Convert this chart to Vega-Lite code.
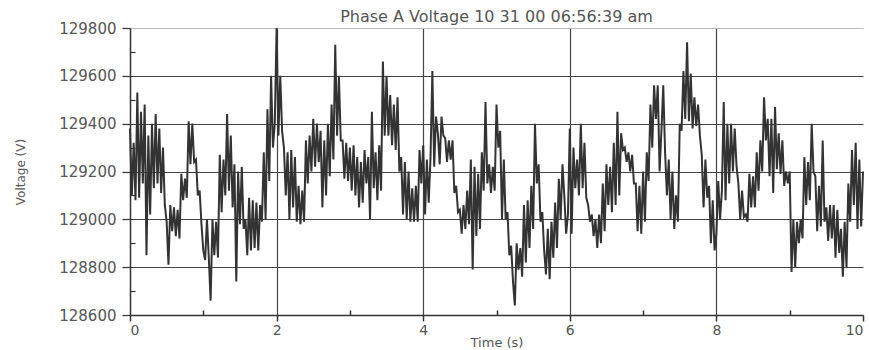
{
  "$schema": "https://vega.github.io/schema/vega-lite/v6.json",
  "width": 733,
  "height": 287,
  "autosize": "none",
  "padding": {"left": 130, "top": 28, "right": 6, "bottom": 35},
  "background": "white",
  "title": {"text": "Phase A Voltage 10 31 00 06:56:39 am", "font": "DejaVu Sans", "fontSize": 16, "fontWeight": "normal", "color": "#555", "offset": -4},
  "config": {"view": {"stroke": null}},
  "data": {"values": [
    {"t":0.000,"v":129380},{"t":0.025,"v":129100},{"t":0.050,"v":129320},{"t":0.075,"v":129080},
    {"t":0.100,"v":129530},{"t":0.125,"v":129090},{"t":0.150,"v":129450},{"t":0.175,"v":129150},
    {"t":0.200,"v":129480},{"t":0.225,"v":128850},{"t":0.250,"v":129350},{"t":0.275,"v":129020},
    {"t":0.300,"v":129400},{"t":0.325,"v":129130},{"t":0.350,"v":129440},{"t":0.375,"v":129150},
    {"t":0.400,"v":129380},{"t":0.425,"v":129110},{"t":0.450,"v":129300},{"t":0.475,"v":129060},
    {"t":0.500,"v":128990},{"t":0.525,"v":128810},{"t":0.550,"v":129060},{"t":0.575,"v":128950},
    {"t":0.600,"v":129050},{"t":0.625,"v":128930},{"t":0.650,"v":129040},{"t":0.675,"v":128920},
    {"t":0.700,"v":129190},{"t":0.725,"v":129080},{"t":0.750,"v":129170},{"t":0.775,"v":129090},
    {"t":0.800,"v":129410},{"t":0.825,"v":129230},{"t":0.850,"v":129400},{"t":0.875,"v":129240},
    {"t":0.900,"v":129250},{"t":0.925,"v":129100},{"t":0.950,"v":129120},{"t":0.975,"v":128980},
    {"t":1.000,"v":128870},{"t":1.025,"v":128830},{"t":1.050,"v":129000},{"t":1.075,"v":128840},
    {"t":1.100,"v":128660},{"t":1.125,"v":129000},{"t":1.150,"v":128850},{"t":1.175,"v":128990},
    {"t":1.200,"v":128840},{"t":1.225,"v":129270},{"t":1.250,"v":129030},{"t":1.275,"v":129250},
    {"t":1.300,"v":129100},{"t":1.325,"v":129440},{"t":1.350,"v":129120},{"t":1.375,"v":129350},
    {"t":1.400,"v":129050},{"t":1.425,"v":129230},{"t":1.450,"v":128740},{"t":1.475,"v":129200},
    {"t":1.500,"v":128980},{"t":1.525,"v":129220},{"t":1.550,"v":128960},{"t":1.575,"v":129000},
    {"t":1.600,"v":128850},{"t":1.625,"v":129090},{"t":1.650,"v":128870},{"t":1.675,"v":129080},
    {"t":1.700,"v":128880},{"t":1.725,"v":129070},{"t":1.750,"v":128870},{"t":1.775,"v":129060},
    {"t":1.800,"v":128990},{"t":1.825,"v":129280},{"t":1.850,"v":129000},{"t":1.875,"v":129460},
    {"t":1.900,"v":129160},{"t":1.925,"v":129600},{"t":1.950,"v":129300},{"t":1.975,"v":129400},
    {"t":2.000,"v":129800},{"t":2.025,"v":129350},{"t":2.050,"v":129600},{"t":2.075,"v":129370},
    {"t":2.100,"v":129300},{"t":2.125,"v":129100},{"t":2.150,"v":129280},{"t":2.175,"v":129000},
    {"t":2.200,"v":129290},{"t":2.225,"v":129050},{"t":2.250,"v":129260},{"t":2.275,"v":128990},
    {"t":2.300,"v":129140},{"t":2.325,"v":128980},{"t":2.350,"v":129120},{"t":2.375,"v":128990},
    {"t":2.400,"v":129330},{"t":2.425,"v":129150},{"t":2.450,"v":129350},{"t":2.475,"v":129200},
    {"t":2.500,"v":129420},{"t":2.525,"v":129220},{"t":2.550,"v":129400},{"t":2.575,"v":129240},
    {"t":2.600,"v":129370},{"t":2.625,"v":129050},{"t":2.650,"v":129330},{"t":2.675,"v":129100},
    {"t":2.700,"v":129400},{"t":2.725,"v":129180},{"t":2.750,"v":129480},{"t":2.775,"v":129250},
    {"t":2.800,"v":129730},{"t":2.825,"v":129350},{"t":2.850,"v":129600},{"t":2.875,"v":129330},
    {"t":2.900,"v":129330},{"t":2.925,"v":129170},{"t":2.950,"v":129320},{"t":2.975,"v":129160},
    {"t":3.000,"v":129300},{"t":3.025,"v":129120},{"t":3.050,"v":129310},{"t":3.075,"v":129100},
    {"t":3.100,"v":129260},{"t":3.125,"v":129050},{"t":3.150,"v":129240},{"t":3.175,"v":129070},
    {"t":3.200,"v":129290},{"t":3.225,"v":129150},{"t":3.250,"v":129260},{"t":3.275,"v":129000},
    {"t":3.300,"v":129450},{"t":3.325,"v":129130},{"t":3.350,"v":129280},{"t":3.375,"v":129080},
    {"t":3.400,"v":129310},{"t":3.425,"v":129120},{"t":3.450,"v":129660},{"t":3.475,"v":129350},
    {"t":3.500,"v":129600},{"t":3.525,"v":129350},{"t":3.550,"v":129520},{"t":3.575,"v":129310},
    {"t":3.600,"v":129480},{"t":3.625,"v":129290},{"t":3.650,"v":129510},{"t":3.675,"v":129200},
    {"t":3.700,"v":129260},{"t":3.725,"v":129020},{"t":3.750,"v":129240},{"t":3.775,"v":129000},
    {"t":3.800,"v":129200},{"t":3.825,"v":128990},{"t":3.850,"v":129130},{"t":3.875,"v":128990},
    {"t":3.900,"v":129140},{"t":3.925,"v":128990},{"t":3.950,"v":129290},{"t":3.975,"v":129150},
    {"t":4.000,"v":129310},{"t":4.025,"v":129020},{"t":4.050,"v":129250},{"t":4.075,"v":129070},
    {"t":4.100,"v":129260},{"t":4.125,"v":129620},{"t":4.150,"v":129220},{"t":4.175,"v":129430},
    {"t":4.200,"v":129360},{"t":4.225,"v":129230},{"t":4.250,"v":129430},{"t":4.275,"v":129350},
    {"t":4.300,"v":129340},{"t":4.325,"v":129240},{"t":4.350,"v":129330},{"t":4.375,"v":129250},
    {"t":4.400,"v":129330},{"t":4.425,"v":129110},{"t":4.450,"v":129140},{"t":4.475,"v":129030},
    {"t":4.500,"v":129040},{"t":4.525,"v":128940},{"t":4.550,"v":129060},{"t":4.575,"v":128960},
    {"t":4.600,"v":129120},{"t":4.625,"v":128980},{"t":4.650,"v":129250},{"t":4.675,"v":128790},
    {"t":4.700,"v":129220},{"t":4.725,"v":128930},{"t":4.750,"v":129190},{"t":4.775,"v":128960},
    {"t":4.800,"v":129280},{"t":4.825,"v":129120},{"t":4.850,"v":129490},{"t":4.875,"v":129150},
    {"t":4.900,"v":129230},{"t":4.925,"v":129110},{"t":4.950,"v":129220},{"t":4.975,"v":129120},
    {"t":5.000,"v":129480},{"t":5.025,"v":129300},{"t":5.050,"v":129370},{"t":5.075,"v":129000},
    {"t":5.100,"v":129250},{"t":5.125,"v":129000},{"t":5.150,"v":129030},{"t":5.175,"v":128850},
    {"t":5.200,"v":128890},{"t":5.225,"v":128740},{"t":5.250,"v":128640},{"t":5.275,"v":128900},
    {"t":5.300,"v":128790},{"t":5.325,"v":128880},{"t":5.350,"v":128760},{"t":5.375,"v":129060},
    {"t":5.400,"v":128820},{"t":5.425,"v":129080},{"t":5.450,"v":128880},{"t":5.475,"v":129140},
    {"t":5.500,"v":128960},{"t":5.525,"v":129400},{"t":5.550,"v":129150},{"t":5.575,"v":129230},
    {"t":5.600,"v":128990},{"t":5.625,"v":129030},{"t":5.650,"v":128870},{"t":5.675,"v":128770},
    {"t":5.700,"v":128960},{"t":5.725,"v":128750},{"t":5.750,"v":128990},{"t":5.775,"v":128840},
    {"t":5.800,"v":129070},{"t":5.825,"v":128880},{"t":5.850,"v":129170},{"t":5.875,"v":129000},
    {"t":5.900,"v":129230},{"t":5.925,"v":129100},{"t":5.950,"v":128940},{"t":5.975,"v":129020},
    {"t":6.000,"v":129380},{"t":6.025,"v":128940},{"t":6.050,"v":129300},{"t":6.075,"v":129130},
    {"t":6.100,"v":129250},{"t":6.125,"v":129100},{"t":6.150,"v":129400},{"t":6.175,"v":129130},
    {"t":6.200,"v":129320},{"t":6.225,"v":129090},{"t":6.250,"v":129060},{"t":6.275,"v":128990},
    {"t":6.300,"v":129020},{"t":6.325,"v":128930},{"t":6.350,"v":129000},{"t":6.375,"v":128880},
    {"t":6.400,"v":129020},{"t":6.425,"v":128900},{"t":6.450,"v":129150},{"t":6.475,"v":128950},
    {"t":6.500,"v":129230},{"t":6.525,"v":129060},{"t":6.550,"v":129220},{"t":6.575,"v":129030},
    {"t":6.600,"v":129320},{"t":6.625,"v":129060},{"t":6.650,"v":129450},{"t":6.675,"v":129100},
    {"t":6.700,"v":129360},{"t":6.725,"v":129290},{"t":6.750,"v":129300},{"t":6.775,"v":129240},
    {"t":6.800,"v":129280},{"t":6.825,"v":129200},{"t":6.850,"v":129270},{"t":6.875,"v":129150},
    {"t":6.900,"v":129150},{"t":6.925,"v":128950},{"t":6.950,"v":129140},{"t":6.975,"v":128940},
    {"t":7.000,"v":129200},{"t":7.025,"v":128990},{"t":7.050,"v":129280},{"t":7.075,"v":129160},
    {"t":7.100,"v":129480},{"t":7.125,"v":129300},{"t":7.150,"v":129560},{"t":7.175,"v":129420},
    {"t":7.200,"v":129560},{"t":7.225,"v":129200},{"t":7.250,"v":129370},{"t":7.275,"v":129560},
    {"t":7.300,"v":129280},{"t":7.325,"v":129100},{"t":7.350,"v":129250},{"t":7.375,"v":129000},
    {"t":7.400,"v":129200},{"t":7.425,"v":128960},{"t":7.450,"v":129100},{"t":7.475,"v":128990},
    {"t":7.500,"v":129400},{"t":7.525,"v":129370},{"t":7.550,"v":129620},{"t":7.575,"v":129420},
    {"t":7.600,"v":129740},{"t":7.625,"v":129410},{"t":7.650,"v":129610},{"t":7.675,"v":129380},
    {"t":7.700,"v":129510},{"t":7.725,"v":129390},{"t":7.750,"v":129480},{"t":7.775,"v":129350},
    {"t":7.800,"v":129270},{"t":7.825,"v":129050},{"t":7.850,"v":129250},{"t":7.875,"v":129090},
    {"t":7.900,"v":129140},{"t":7.925,"v":128900},{"t":7.950,"v":129080},{"t":7.975,"v":128870},
    {"t":8.000,"v":128940},{"t":8.025,"v":129160},{"t":8.050,"v":129000},{"t":8.075,"v":129120},
    {"t":8.100,"v":129490},{"t":8.125,"v":129080},{"t":8.150,"v":129400},{"t":8.175,"v":129150},
    {"t":8.200,"v":129400},{"t":8.225,"v":129200},{"t":8.250,"v":129380},{"t":8.275,"v":129220},
    {"t":8.300,"v":129150},{"t":8.325,"v":129000},{"t":8.350,"v":129120},{"t":8.375,"v":129010},
    {"t":8.400,"v":129020},{"t":8.425,"v":128990},{"t":8.450,"v":129190},{"t":8.475,"v":129050},
    {"t":8.500,"v":129180},{"t":8.525,"v":129050},{"t":8.550,"v":129280},{"t":8.575,"v":129120},
    {"t":8.600,"v":129330},{"t":8.625,"v":129200},{"t":8.650,"v":129510},{"t":8.675,"v":129330},
    {"t":8.700,"v":129420},{"t":8.725,"v":129180},{"t":8.750,"v":129420},{"t":8.775,"v":129110},
    {"t":8.800,"v":129470},{"t":8.825,"v":129210},{"t":8.850,"v":129360},{"t":8.875,"v":129190},
    {"t":8.900,"v":129330},{"t":8.925,"v":129140},{"t":8.950,"v":129200},{"t":8.975,"v":129150},
    {"t":9.000,"v":129200},{"t":9.025,"v":128780},{"t":9.050,"v":129000},{"t":9.075,"v":128800},
    {"t":9.100,"v":128990},{"t":9.125,"v":128900},{"t":9.150,"v":129000},{"t":9.175,"v":128920},
    {"t":9.200,"v":129260},{"t":9.225,"v":129060},{"t":9.250,"v":129240},{"t":9.275,"v":129080},
    {"t":9.300,"v":129400},{"t":9.325,"v":129200},{"t":9.350,"v":129180},{"t":9.375,"v":128950},
    {"t":9.400,"v":129140},{"t":9.425,"v":128970},{"t":9.450,"v":129330},{"t":9.475,"v":128990},
    {"t":9.500,"v":129050},{"t":9.525,"v":128910},{"t":9.550,"v":129060},{"t":9.575,"v":128920},
    {"t":9.600,"v":129060},{"t":9.625,"v":128840},{"t":9.650,"v":129040},{"t":9.675,"v":128860},
    {"t":9.700,"v":128960},{"t":9.725,"v":128760},{"t":9.750,"v":128990},{"t":9.775,"v":128800},
    {"t":9.800,"v":129150},{"t":9.825,"v":128990},{"t":9.850,"v":129290},{"t":9.875,"v":129060},
    {"t":9.900,"v":129320},{"t":9.925,"v":128960},{"t":9.950,"v":129250},{"t":9.975,"v":128970},
    {"t":10.000,"v":129200}
  ]},
  "mark": {"type": "line", "color": "#333333", "strokeWidth": 2, "interpolate": "linear"},
  "encoding": {
    "x": {
      "field": "t", "type": "quantitative",
      "scale": {"domain": [0, 10], "nice": false},
      "axis": {
        "values": [0,1,2,3,4,5,6,7,8,9,10],
        "labelExpr": "datum.value % 2 === 0 ? datum.label : ''",
        "title": "Time (s)",
        "titleFont": "DejaVu Sans", "titleFontSize": 13, "titleFontWeight": "normal", "titleColor": "#555",
        "titleBaseline": "middle", "titleY": 27,
        "labelFont": "DejaVu Sans", "labelFontSize": 14, "labelColor": "#555", "labelPadding": 2,
        "domainColor": "#333", "domainWidth": 1.5,
        "tickColor": "#333", "tickWidth": 1.5,
        "tickSize": {"condition": {"test": "datum.value % 2 !== 0", "value": -5}, "value": 6},
        "grid": true,
        "gridColor": "#444", "gridWidth": 1.2,
        "gridOpacity": {"condition": {"test": "datum.value % 2 === 0 && datum.value > 0 && datum.value < 10", "value": 1}, "value": 0}
      }
    },
    "y": {
      "field": "v", "type": "quantitative",
      "scale": {"domain": [128600, 129800], "nice": false, "zero": false},
      "axis": {
        "values": [128600,128700,128800,128900,129000,129100,129200,129300,129400,129500,129600,129700,129800],
        "format": "d",
        "labelExpr": "datum.value % 200 === 0 ? datum.label : ''",
        "title": "Voltage (V)",
        "titleFont": "DejaVu Sans", "titleFontSize": 12, "titleFontWeight": "normal", "titleColor": "#555",
        "titleBaseline": "middle", "titleX": -110,
        "labelFont": "DejaVu Sans", "labelFontSize": 15, "labelColor": "#555", "labelPadding": 6,
        "domainColor": "#333", "domainWidth": 1.5,
        "tickColor": "#333", "tickWidth": 1.2,
        "tickSize": {"condition": {"test": "datum.value % 200 !== 0", "value": -5}, "value": 8},
        "grid": true,
        "gridColor": {"condition": {"test": "datum.value === 129800", "value": "#bbb"}, "value": "#444"},
        "gridWidth": 1.2,
        "gridOpacity": {"condition": {"test": "datum.value % 200 === 0", "value": 1}, "value": 0}
      }
    }
  }
}
